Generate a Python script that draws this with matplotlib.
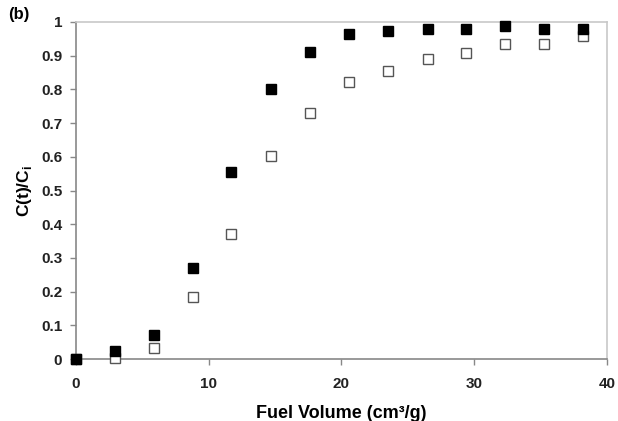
import matplotlib
matplotlib.use("Agg")
import matplotlib.pyplot as plt

fuel_volume = [0, 2.9, 5.9, 8.8, 11.7, 14.7, 17.6, 20.6, 23.5, 26.5, 29.4, 32.3, 35.3, 38.2]
filled_vals = [0.0, 0.024, 0.071, 0.269, 0.556, 0.802, 0.910, 0.963, 0.974, 0.980, 0.980, 0.988, 0.980, 0.980]
open_vals = [0.0, 0.002, 0.034, 0.185, 0.372, 0.602, 0.731, 0.823, 0.855, 0.889, 0.909, 0.935, 0.935, 0.959]
x_ticks = [0, 10, 20, 30, 40]
y_ticks = [0, 0.1, 0.2, 0.3, 0.4, 0.5, 0.6, 0.7, 0.8, 0.9, 1]
y_tick_labels = ["0", "0.1", "0.2", "0.3", "0.4", "0.5", "0.6", "0.7", "0.8", "0.9", "1"]

plt.rcParams['font.family'] = ['Liberation Sans', 'DejaVu Sans']
plt.rcParams['font.weight'] = 'bold'
plt.rcParams['mathtext.fontset'] = 'custom'
plt.rcParams['mathtext.bf'] = 'Liberation Sans:bold'
plt.rcParams['mathtext.rm'] = 'Liberation Sans:bold'

fig = plt.figure(figsize=(6.18, 4.21), dpi=100)
ax = fig.add_axes([0.123, 0.147, 0.859, 0.801])

ax.plot(fuel_volume, open_vals, linestyle='none', marker='s', markersize=6.5,
        markerfacecolor='white', markeredgecolor='#555555', markeredgewidth=1.0, clip_on=False, zorder=3)
ax.plot(fuel_volume, filled_vals, linestyle='none', marker='s', markersize=7,
        markerfacecolor='black', markeredgecolor='black', clip_on=False, zorder=4)

ax.set_xlim(0, 40)
ax.set_ylim(0, 1)
ax.set_xticks(x_ticks)
ax.set_xticklabels([str(t) for t in x_ticks], fontsize=11, fontweight='bold', color='#222222')
ax.set_yticks(y_ticks)
ax.set_yticklabels(y_tick_labels, fontsize=11, fontweight='bold', color='#222222')

for s in ['left', 'bottom']:
    ax.spines[s].set_color('#888888')
    ax.spines[s].set_linewidth(1.2)
for s in ['top', 'right']:
    ax.spines[s].set_color('#c8c8c8')
    ax.spines[s].set_linewidth(1.2)
ax.tick_params(axis='both', direction='out', length=4, width=1, color='#888888')
ax.tick_params(axis='x', pad=9)
ax.tick_params(axis='y', pad=6)

ax.set_xlabel("Fuel Volume (cm³/g)", fontsize=13, fontweight='bold', labelpad=10)
ax.set_ylabel("C(t)/C$_\\mathbf{i}$", fontsize=12.5, fontweight='bold', labelpad=5)

fig.text(0.013, 0.965, "(b)", fontsize=12, fontweight='bold', ha='left', va='center')

fig.savefig("out.png", dpi=100)
